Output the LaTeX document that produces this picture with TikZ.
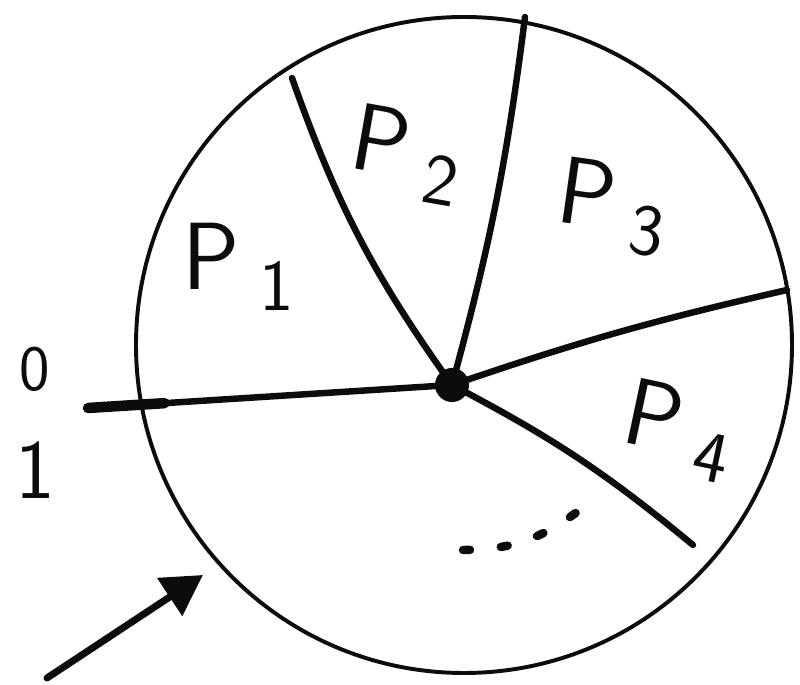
\documentclass[tikz,border=0pt]{standalone}
\usepackage{tikz}
\usetikzlibrary{arrows.meta, calc}
\definecolor{ink}{RGB}{12,12,12}
\newcommand{\plabel}[1]{P\kern0.2em\raisebox{-0.5ex}{\fontsize{52}{52}\selectfont #1}}

\begin{document}
\begin{tikzpicture}[line width=2.8pt, line cap=round, ink,
    spoke/.style={line width=4.6pt},
    part/.style={font=\sffamily\fontsize{68}{68}\selectfont, inner sep=0pt}]
  \useasboundingbox (0,0) rectangle (20,17.125);

  % ---------- disk ----------
  \draw (11.6,8.5) circle (8.2);

  % ---------- hub and spoke ends ----------
  \node[circle, fill=ink, inner sep=0pt, minimum size=0.85cm] (hub) at (11.3,7.5) {};
  \coordinate (s0) at (2.2,6.925);
  \coordinate (s1) at (7.3,15.175);
  \coordinate (s2) at (13.125,16.7);
  \coordinate (s3) at (19.675,9.875);
  \coordinate (s4) at (17.325,3.5);

  % spokes (slightly bent, as drawn by hand)
  \draw[spoke] (hub.center) -- (s0);
  \draw[line width=7.5pt] (s0) -- ($(s0)!0.21!(hub.center)$);
  \draw[spoke] (hub.center) to[bend left=8] (s1);
  \draw[spoke] (hub.center) to[bend right=4] (s2);
  \draw[spoke] (hub.center) to[bend left=3] (s3);
  \draw[spoke] (hub.center) to[bend left=6] (s4);

  % ---------- partition labels ----------
  \node[part] (p1) at (5.95,10.45) {\plabel{1}};
  \node[part, rotate=-10] (p2) at (10.15,13.25) {\plabel{2}};
  \node[part, rotate=-8] (p3) at (15.3,11.95) {\plabel{3}};
  \node[part, rotate=-12] (p4) at (16.95,6.35) {\plabel{4}};

  % ---------- bit labels ----------
  \node[font=\sffamily\fontsize{46}{46}\selectfont] (bit0) at (0.875,7.9) {0};
  \node[font=\sffamily\fontsize{60}{60}\selectfont] (bit1) at (0.875,5.375) {1};

  % ---------- more parts ----------
  \coordinate (d0) at (11.575,3.375);
  \coordinate (d1) at (14.425,4.325);
  \draw[line width=6pt, dash pattern=on 5pt off 22pt] (d0) to[bend right=18] (d1);

  % ---------- arrow ----------
  \coordinate (a0) at (1.175,0.175);
  \coordinate (a1) at (5.075,2.75);
  \draw[line width=5pt, -{Triangle[length=1.0cm, width=1.1cm]}] (a0) -- (a1);
\end{tikzpicture}
\end{document}
